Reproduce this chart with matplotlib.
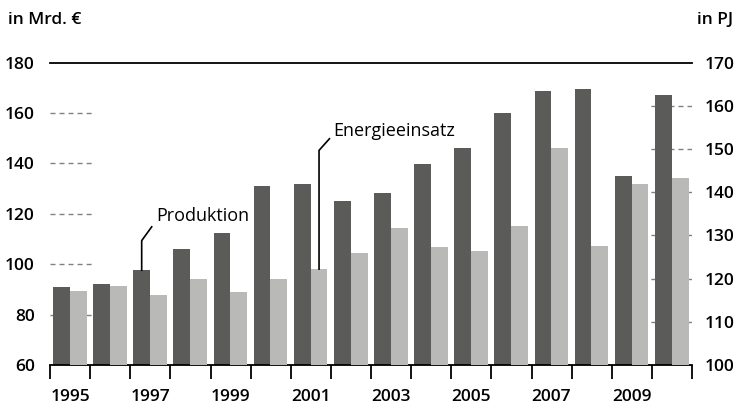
import numpy as np
import matplotlib
matplotlib.use("Agg")
import matplotlib.pyplot as plt
from matplotlib.transforms import blended_transform_factory

plt.rcParams['font.family'] = ['Open Sans', 'DejaVu Sans']

# Data
years = list(range(1995, 2011))
produktion = [90.8, 92.1, 97.6, 106.2, 112.2, 131.2, 131.7, 125.2, 128.4,
              139.9, 146.2, 159.9, 168.9, 169.4, 134.9, 167.3]          # Mrd. €
energieeinsatz = [117.2, 118.4, 116.2, 119.8, 116.9, 120.0, 122.2, 126.0, 131.8,
                  127.3, 126.3, 132.1, 150.3, 127.6, 141.8, 143.4]      # PJ
left_ticks = [60, 80, 100, 120, 140, 160, 180]
right_ticks = [100, 110, 120, 130, 140, 150, 160, 170]
year_labels = [str(y) for y in years[::2]]

dark = '#5b5b59'
light = '#b9bab8'
grid_col = '#808080'

fig = plt.figure(figsize=(7.36, 4.04), dpi=100)
ax1 = fig.add_axes([50/736, 39/404, 642/736, 302.3/404])
ax2 = ax1.twinx()

x = np.arange(len(years))
bw = 0.42
off = 0.075

ax1.set_xlim(0, len(years))
ax1.set_ylim(60, 180)
ax2.set_ylim(100, 170)

# short dashed guides at both edges
for v in left_ticks[1:-1]:
    ax1.plot([0, 0.07], [v, v], transform=blended_transform_factory(ax1.transAxes, ax1.transData),
             color=grid_col, lw=1.0, dashes=(3.6, 2.9), zorder=0.5)
rt = blended_transform_factory(ax1.transAxes, ax2.transData)
for v in right_ticks[1:-1]:
    ax1.plot([1.0, 0.93], [v, v], transform=rt,
             color=grid_col, lw=1.0, dashes=(3.6, 2.9), zorder=0.5)

ax1.bar(x + off, produktion, width=bw, bottom=0, align='edge', color=dark, zorder=2)
ax2.bar(x + off + bw, energieeinsatz, width=bw, bottom=0, align='edge', color=light, zorder=2)

# axes styling
for ax in (ax1, ax2):
    for s in ('left', 'right'):
        ax.spines[s].set_visible(False)
    ax.spines['top'].set_linewidth(1.3)
    ax.spines['bottom'].set_linewidth(1.3)
ax2.spines['top'].set_visible(False)
ax2.spines['bottom'].set_visible(False)

fs = 12.5
ax1.set_yticks(left_ticks)
ax1.set_yticklabels([str(t) for t in left_ticks])
ax1.tick_params(axis='y', length=0, pad=11, labelsize=fs)
ax2.set_yticks(right_ticks)
ax2.set_yticklabels([str(t) for t in right_ticks])
ax2.tick_params(axis='y', length=0, pad=9, labelsize=fs)
for lab in ax1.get_yticklabels() + ax2.get_yticklabels():
    lab.set_fontweight('semibold')

ax1.set_xticks(np.arange(0, len(years) + 1))
ax1.set_xticklabels([])
ax1.tick_params(axis='x', which='major', length=10, width=1.3, direction='out')
ax1.set_xticks(x[::2] + 0.5, minor=True)
ax1.set_xticklabels(year_labels, minor=True)
ax1.tick_params(axis='x', which='minor', length=0, pad=17, labelsize=fs)
for lab in ax1.get_xticklabels(minor=True):
    lab.set_fontweight('semibold')

# unit labels
fig.text(8/736, 1 - 20/404, 'in Mrd. €', ha='left', va='center', fontsize=fs, fontweight='semibold')
fig.text(733/736, 1 - 20/404, 'in PJ', ha='right', va='center', fontsize=fs, fontweight='semibold')

# leader lines and labels
i97 = years.index(1997)
cx = i97 + off + bw / 2
ax2.plot([cx, cx, cx + 0.25], [ax2.transData.inverted().transform(ax1.transData.transform((cx, produktion[i97])))[1],
                               128.8, 132.0], color='black', lw=1.2, zorder=5,
         transform=ax2.transData)
ax2.text(cx + 0.36, 134.6, 'Produktion', ha='left', va='center', fontsize=13, zorder=5)

i01 = years.index(2001)
cx2 = i01 + off + bw + bw / 2
ax2.plot([cx2, cx2, cx2 + 0.26], [energieeinsatz[i01], 149.7, 152.4],
         color='black', lw=1.2, zorder=5)
ax2.text(cx2 + 0.36, 154.1, 'Energieeinsatz', ha='left', va='center', fontsize=13, zorder=5)

fig.savefig('out.png', dpi=100)
